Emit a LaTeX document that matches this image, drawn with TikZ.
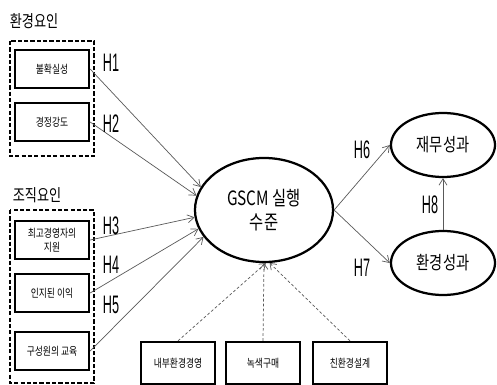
\documentclass[tikz,border=0pt]{standalone}
\usepackage{fontspec}
\setmainfont{Noto Sans CJK KR}[FakeStretch=0.78]
\newfontfamily\hypfont{Liberation Sans}[FakeStretch=0.5]
\usetikzlibrary{arrows.meta, positioning, shapes.geometric}

\begin{document}
\begin{tikzpicture}[
    x=0.025cm, y=-0.025cm,
    factor/.style={rectangle, draw, line width=1.6pt, minimum width=1.85cm, minimum height=0.95cm, align=center, font=\fontsize{8}{10}\selectfont},
    practice/.style={rectangle, draw, line width=1.6pt, minimum width=1.85cm, minimum height=1.05cm, align=center, font=\fontsize{8}{10}\selectfont},
    group/.style={draw, dashed, line width=1.6pt, dash pattern=on 3pt off 1.5pt},
    latent/.style={ellipse, draw, line width=1.6pt, align=center},
    title/.style={font=\fontsize{12}{14}\selectfont},
    hyp/.style={font=\hypfont\fontsize{18}{18}\selectfont},
    arrow/.style={-{Straight Barb[length=1.6mm, width=2mm]}, black!65, line width=0.5pt},
    effect/.style={-{Straight Barb[length=1.4mm, width=2mm]}, black!65, line width=0.5pt, dashed, dash pattern=on 2pt off 1.5pt}
]
\useasboundingbox (0,0) rectangle (497,385);

% Environmental factors
\node[title] (envtitle) at (34,21) {환경요인};
\draw[group] (10,41) rectangle (94,156);
\node[factor] (uncert) at (52,69) {불확실성};
\node[factor] (compet) at (52,122) {경정강도};

% Organisational factors
\node[title] (orgtitle) at (37,195) {조직요인};
\draw[group] (10,210) rectangle (94,383);
\node[factor] (topmgmt) at (52,240) {최고경영자의\\지원};
\node[factor] (benefit) at (52,293) {인지된 이익};
\node[factor] (training) at (52,351) {구성원의 교육};

% Central construct
\node[latent, minimum width=3.45cm, minimum height=2.6cm, font=\fontsize{14}{17}\selectfont] (gscm) at (264,210) {GSCM 실행\\수준};

% Performance
\node[latent, minimum width=2.6cm, minimum height=1.6cm, font=\fontsize{13}{15}\selectfont] (finperf) at (443,145) {재무성과};
\node[latent, minimum width=2.6cm, minimum height=1.6cm, font=\fontsize{13}{15}\selectfont] (envperf) at (443,263) {환경성과};

% GSCM practices
\node[practice] (internal) at (178,363) {내부환경경영};
\node[practice] (green) at (263,363) {녹색구매};
\node[practice] (ecodesign) at (350,363) {친환경설계};

% Hypothesised paths
\draw[arrow] (uncert.east) -- (gscm.160);
\draw[arrow] (compet.east) -- (gscm.168);
\draw[arrow] (topmgmt.east) -- (gscm.186);
\draw[arrow] (benefit.east) -- (gscm.196);
\draw[arrow] (training.east) -- (gscm.204);
\draw[arrow] (gscm.east) -- (finperf.west);
\draw[arrow] (gscm.east) -- (envperf.west);
\draw[arrow] (envperf.north) -- (finperf.south);

% Formative indicators
\draw[effect] (internal.north) -- (gscm.272);
\draw[effect] (green.north) -- (gscm.270);
\draw[effect] (ecodesign.north) -- (gscm.276);

% Labels
\node[hyp] (h1) at (111,63) {H1};
\node[hyp] (h2) at (111,124) {H2};
\node[hyp] (h3) at (111,226) {H3};
\node[hyp] (h4) at (111,265) {H4};
\node[hyp] (h5) at (111,305) {H5};
\node[hyp] (h6) at (362,150) {H6};
\node[hyp] (h7) at (362,268) {H7};
\node[hyp] (h8) at (430,205) {H8};
\end{tikzpicture}
\end{document}
